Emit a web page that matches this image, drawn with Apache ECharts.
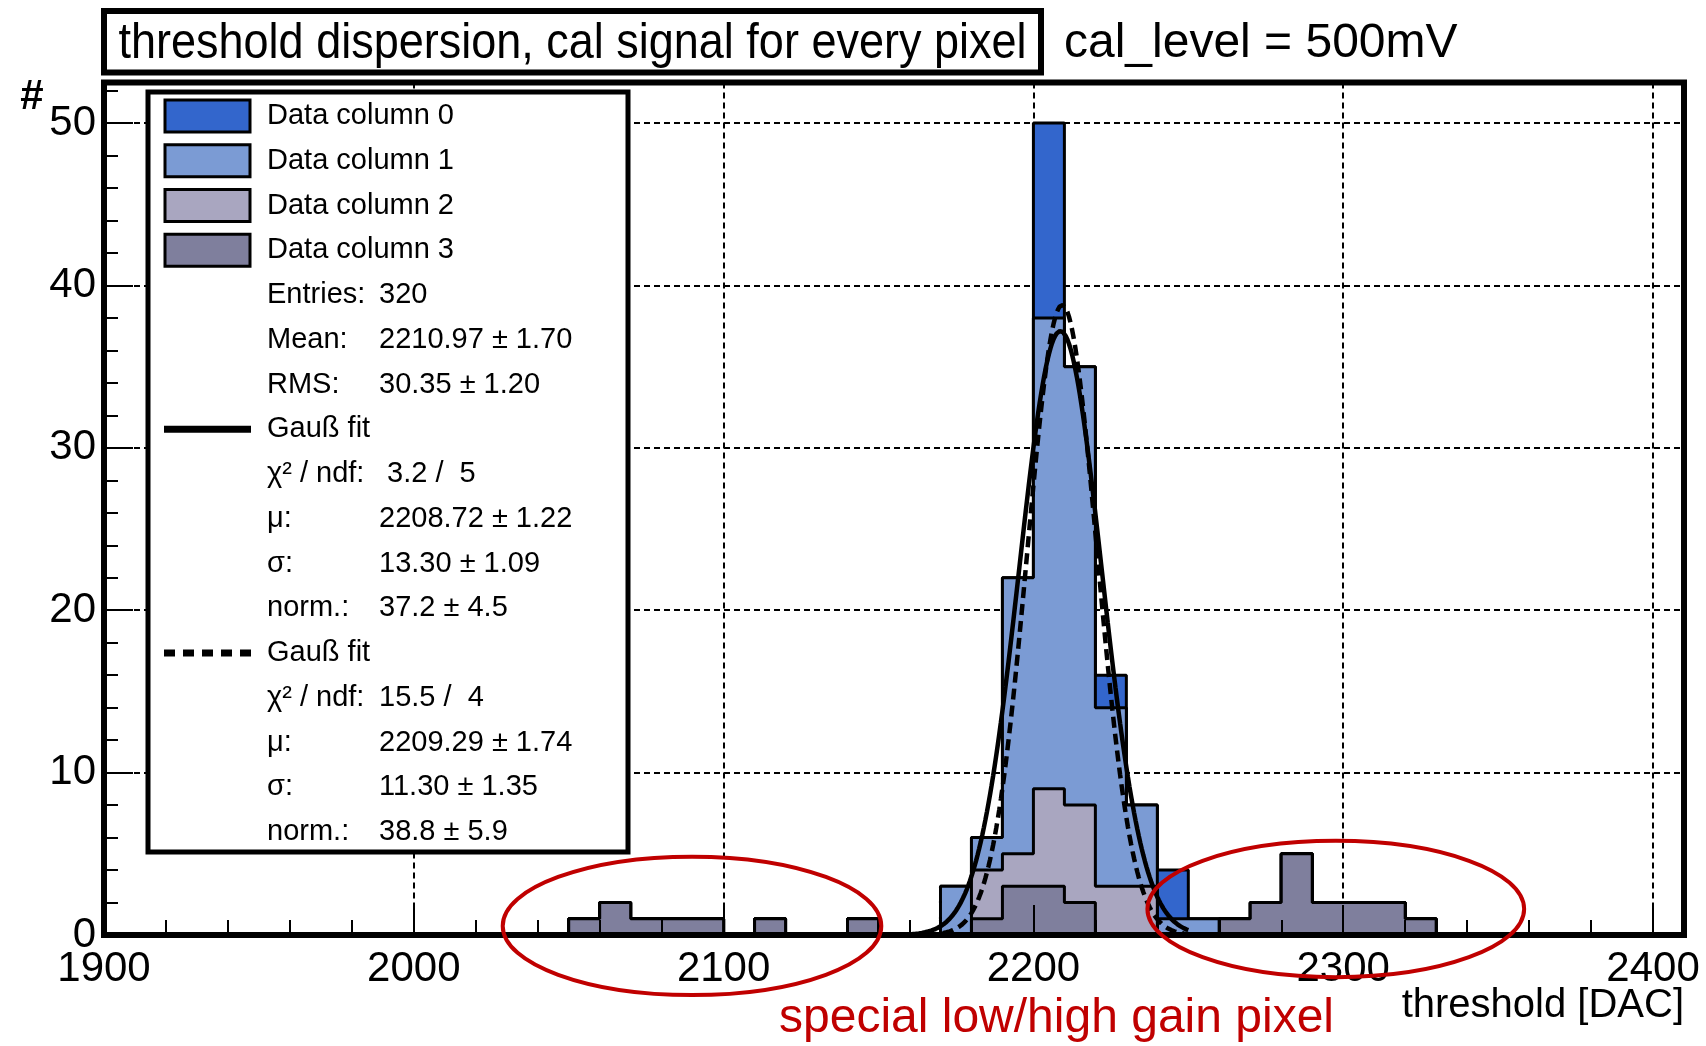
<!DOCTYPE html>
<html>
<head>
<meta charset="utf-8">
<title>threshold dispersion</title>
<script src="https://cdn.jsdelivr.net/npm/echarts/dist/echarts.min.js"></script>
<style>
  html, body { margin: 0; padding: 0; background: #fff; }
  #chart { width: 1706px; height: 1046px; }
</style>
</head>
<body>
<div id="chart"></div>
<script>
// Histogram binning: 10 DAC wide bins starting at 2050
const BIN_START = 2050;
const BIN_WIDTH = 10;

// Pixel counts per bin for each data column (bins 2050 ... 2320)
const column0 = [0,0,0,0,0,0,0,0,0,0, 0,0,0,0,0,12,0,2,0,3, 0,0,0,0,0,0,0,0];
const column1 = [0,0,0,0,0,0,0,0,0,0, 0,0,3,2,17,29,27,11,5,1, 1,0,0,0,0,0,0,0];
const column2 = [0,0,0,0,0,0,0,0,0,0, 0,0,0,3,2,6,6,3,3,0, 0,0,0,0,0,0,0,0];
const column3 = [1,2,1,1,1,0,1,0,0,1, 0,0,0,1,3,3,2,0,0,0, 0,1,2,5,2,2,2,1];

const columnNames = ['Data column 0', 'Data column 1', 'Data column 2', 'Data column 3'];
const columnColors = ['#3366cc', '#7b9bd4', '#a9a6c0', '#7f7f9d'];

// Axis ranges and tick spacing
const X_MIN = 1900, X_MAX = 2410, X_STEP = 100, X_MINOR = 20;
const Y_MIN = 0, Y_MAX = 52.5, Y_STEP = 10, Y_MINOR = 2;

// Tick label values
const xTickLabels = [1900, 2000, 2100, 2200, 2300, 2400];
const yTickLabels = [0, 10, 20, 30, 40, 50];

// Gaussian fit results (as quoted in the stats box)
const fitSolid  = { norm: 37.2, mu: 2208.72, sigma: 13.30, from: 2160, to: 2250 };
const fitDashed = { norm: 38.8, mu: 2209.29, sigma: 11.30, from: 2050, to: 2250 };

// Stats box text
const statLabels = ['Entries:', 'Mean:', 'RMS:'];
const statValues = ['320', '2210.97 ± 1.70', '30.35 ± 1.20'];
const fitLabels = ['χ² / ndf:', 'μ:', 'σ:', 'norm.:'];
const fitSolidValues  = [' 3.2 /  5', '2208.72 ± 1.22', '13.30 ± 1.09', '37.2 ± 4.5'];
const fitDashedValues = ['15.5 /  4', '2209.29 ± 1.74', '11.30 ± 1.35', '38.8 ± 5.9'];

// Highlighted outlier regions (centre x, centre y, half width, half height) in axis units
const outlierRegions = [
  [2089.8, 0.56, 61.1, 4.26],
  [2297.6, 1.60, 60.8, 4.20]
];

const FONT = '"Liberation Sans", Arial, Helvetica, sans-serif';
const RED = '#c00000';

// Minor tick positions (every X_MINOR / Y_MINOR, skipping the labelled ones)
function minorValues(min, max, step, major) {
  const out = [];
  for (let v = min + step; v <= max + 1e-9; v += step) {
    const r = Math.round(v * 1000) / 1000;
    if (major.indexOf(r) < 0) out.push(r);
  }
  return out;
}
const xMinorTicks = minorValues(X_MIN, X_MAX, X_MINOR, xTickLabels);
const yMinorTicks = minorValues(Y_MIN, Y_MAX, Y_MINOR, yTickLabels);

// Columns are stacked: column 3 at the bottom, column 0 on top
const layers = [column0, column1, column2, column3];
const cumulative = layers.map((_, k) =>
  layers[0].map((__, i) => layers.slice(k).reduce((s, arr) => s + arr[i], 0)));

function stepPoints(counts) {
  const pts = [[BIN_START, 0]];
  counts.forEach((c, i) => pts.push([BIN_START + i * BIN_WIDTH, c]));
  const end = BIN_START + counts.length * BIN_WIDTH;
  pts.push([end, counts[counts.length - 1]]);
  pts.push([end, 0]);
  return pts;
}

function gaussPoints(f) {
  const pts = [];
  for (let x = f.from; x <= f.to + 1e-9; x += 0.5) {
    const t = (x - f.mu) / f.sigma;
    pts.push([x, f.norm * Math.exp(-0.5 * t * t)]);
  }
  return pts;
}

const histSeries = cumulative.map((vals, k) => ({
  type: 'line',
  name: columnNames[k],
  step: 'end',
  data: stepPoints(vals),
  symbol: 'none',
  silent: true,
  z: 3 + k,
  lineStyle: { color: '#000', width: 3 },
  areaStyle: { color: columnColors[k], opacity: 1 }
}));

const fitSeries = [
  {
    type: 'line', name: 'Gauß fit', data: gaussPoints(fitSolid), symbol: 'none', silent: true, z: 10,
    lineStyle: { color: '#000', width: 4.5 }
  },
  {
    type: 'line', name: 'Gauß fit (2)', data: gaussPoints(fitDashed), symbol: 'none', silent: true, z: 11,
    lineStyle: { color: '#000', width: 4.5, type: [11, 6] }
  }
];

const regionSeries = {
  type: 'custom',
  data: outlierRegions,
  clip: false,
  silent: true,
  z: 120,
  renderItem: function (params, api) {
    const c = api.coord([api.value(0), api.value(1)]);
    const e = api.coord([api.value(0) + api.value(2), api.value(1) + api.value(3)]);
    return {
      type: 'ellipse',
      shape: { cx: c[0], cy: c[1], rx: e[0] - c[0], ry: c[1] - e[1] },
      style: { fill: null, stroke: RED, lineWidth: 4 }
    };
  }
};

// Stats box drawing
const BOX = { x: 148, y: 92, w: 480, h: 760 };
const ROW0 = 116, ROW_STEP = 44.75;
const LABEL_X = 267, VALUE_X = 379, SWATCH_X = 165, SWATCH_W = 85;
const rowY = i => ROW0 + i * ROW_STEP;

function txt(id, x, y, text) {
  return {
    type: 'text', id: id, z: 60, x: x, y: y,
    style: { text: text, font: '29px ' + FONT, fill: '#000', textVerticalAlign: 'middle', verticalAlign: 'middle' }
  };
}

const legendEls = [{
  type: 'rect', id: 'statsBox', z: 55,
  shape: { x: BOX.x, y: BOX.y, width: BOX.w, height: BOX.h },
  style: { fill: '#fff', stroke: '#000', lineWidth: 5 }
}];
let row = 0;
columnNames.forEach((name, k) => {
  legendEls.push({
    type: 'rect', id: 'sw' + k, z: 60,
    shape: { x: SWATCH_X, y: rowY(row) - 16, width: SWATCH_W, height: 32 },
    style: { fill: columnColors[k], stroke: '#000', lineWidth: 3 }
  });
  legendEls.push(txt('name' + k, LABEL_X, rowY(row), name));
  row++;
});
statLabels.forEach((lab, i) => {
  legendEls.push(txt('sl' + i, LABEL_X, rowY(row), lab));
  legendEls.push(txt('sv' + i, VALUE_X, rowY(row), statValues[i]));
  row++;
});
[[fitSolidValues, null], [fitDashedValues, [11, 8]]].forEach(([vals, dash], f) => {
  legendEls.push({
    type: 'line', id: 'fitsw' + f, z: 60,
    shape: { x1: SWATCH_X - 1, y1: rowY(row), x2: SWATCH_X + SWATCH_W + 1, y2: rowY(row) },
    style: { stroke: '#000', lineWidth: 7, lineDash: dash }
  });
  legendEls.push(txt('fitname' + f, LABEL_X, rowY(row), 'Gauß fit'));
  row++;
  fitLabels.forEach((lab, i) => {
    legendEls.push(txt('fl' + f + i, LABEL_X, rowY(row), lab));
    legendEls.push(txt('fv' + f + i, VALUE_X, rowY(row), vals[i]));
    row++;
  });
});

const GRID = { left: 104, right: 22, top: 82.5, bottom: 111 };
const W = 1706, H = 1046;

const frameEls = [
  {
    type: 'rect', id: 'frame', z: 100,
    shape: { x: GRID.left, y: GRID.top, width: W - GRID.left - GRID.right, height: H - GRID.top - GRID.bottom },
    style: { fill: null, stroke: '#000', lineWidth: 6 }
  },
  {
    type: 'rect', id: 'titleBox', z: 100,
    shape: { x: 104, y: 11, width: 937, height: 61.5 },
    style: { fill: '#fff', stroke: '#000', lineWidth: 6 }
  },
  {
    type: 'text', id: 'title', z: 101, x: 572.5, y: 44, scaleX: 0.9,
    style: { text: 'threshold dispersion, cal signal for every pixel', font: '50px ' + FONT, fill: '#000',
             align: 'center', textAlign: 'center', verticalAlign: 'middle', textVerticalAlign: 'middle' }
  },
  {
    type: 'text', id: 'calLevel', z: 101, x: 1064, y: 44,
    style: { text: 'cal_level = 500mV', font: '48px ' + FONT, fill: '#000',
             verticalAlign: 'middle', textVerticalAlign: 'middle' }
  },
  {
    type: 'text', id: 'yName', z: 101, x: 32, y: 97,
    style: { text: '#', font: 'bold 42px ' + FONT, fill: '#000',
             align: 'center', textAlign: 'center', verticalAlign: 'middle', textVerticalAlign: 'middle' }
  },
  {
    type: 'text', id: 'xName', z: 101, x: 1684, y: 1006,
    style: { text: 'threshold [DAC]', font: '40px ' + FONT, fill: '#000',
             align: 'right', textAlign: 'right', verticalAlign: 'middle', textVerticalAlign: 'middle' }
  },
  {
    type: 'text', id: 'note', z: 101, x: 779, y: 1019,
    style: { text: 'special low/high gain pixel', font: '48px ' + FONT, fill: RED,
             verticalAlign: 'middle', textVerticalAlign: 'middle' }
  }
];

const gridLine = { color: '#000', width: 2, type: [6, 4] };
const tickLine = { color: '#000', width: 2 };
const labelStyle = { color: '#000', fontSize: 42, fontFamily: FONT, formatter: v => String(v) };

function tickAxis(min, max, values, length, extra) {
  return Object.assign({
    type: 'value', min: min, max: max, z: 10,
    axisLine: { show: false },
    axisTick: { show: true, inside: true, length: length, lineStyle: tickLine, customValues: values },
    minorTick: { show: false },
    splitLine: { show: false }, axisLabel: { show: false }
  }, extra);
}

const option = {
  animation: false,
  backgroundColor: '#fff',
  grid: Object.assign({ containLabel: false, outerBoundsMode: 'none' }, GRID),
  xAxis: [
    {
      type: 'value', min: X_MIN, max: X_MAX, interval: X_STEP, z: 0,
      axisLine: { show: false }, axisTick: { show: false },
      splitLine: { show: true, lineStyle: gridLine },
      axisLabel: Object.assign({ margin: 13, customValues: xTickLabels, showMaxLabel: true }, labelStyle)
    },
    tickAxis(X_MIN, X_MAX, xTickLabels, 30, { position: 'bottom' }),
    tickAxis(X_MIN, X_MAX, xMinorTicks, 15, { position: 'bottom' })
  ],
  yAxis: [
    {
      type: 'value', min: Y_MIN, max: Y_MAX, interval: Y_STEP, z: 0,
      axisLine: { show: false }, axisTick: { show: false },
      splitLine: { show: true, lineStyle: gridLine },
      axisLabel: Object.assign({ margin: 8, customValues: yTickLabels }, labelStyle)
    },
    tickAxis(Y_MIN, Y_MAX, yTickLabels, 29, { position: 'left' }),
    tickAxis(Y_MIN, Y_MAX, yMinorTicks, 14, { position: 'left' })
  ],
  series: histSeries.concat(fitSeries, [regionSeries]),
  graphic: { elements: legendEls.concat(frameEls) }
};

const chart = echarts.init(document.getElementById('chart'), null, { renderer: 'canvas' });
chart.setOption(option);
</script>
</body>
</html>
